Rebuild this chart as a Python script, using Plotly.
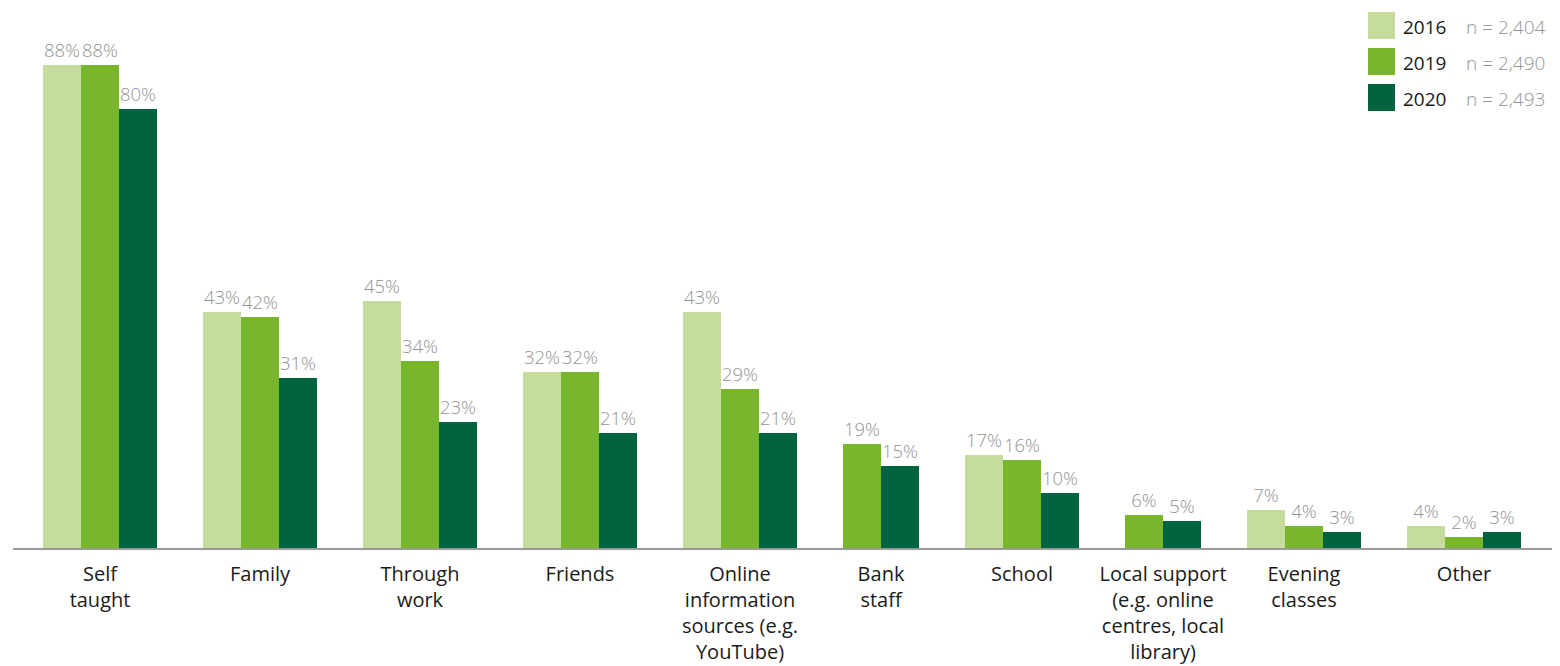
import plotly.graph_objects as go

# Survey responses: where people learned their digital skills (% of respondents)
categories = [
    "Self<br>taught", "Family", "Through<br>work", "Friends",
    "Online<br>information<br>sources (e.g.<br>YouTube)", "Bank<br>staff", "School",
    "Local support<br>(e.g. online<br>centres, local<br>library)", "Evening<br>classes", "Other",
]
years = ["2016", "2019", "2020"]
sample_sizes = ["n = 2,404", "n = 2,490", "n = 2,493"]
values_2016 = [88, 43, 45, 32, 43, None, 17, None, 7, 4]
values_2019 = [88, 42, 34, 32, 29, 19, 16, 6, 4, 2]
values_2020 = [80, 31, 23, 21, 21, 15, 10, 5, 3, 3]

series = [values_2016, values_2019, values_2020]
colors = ["#c6dc9d", "#78b72b", "#00643f"]

BAR = 38      # bar width in axis units
GAP = 46      # space between category groups
LABEL_GREY = "#949494"
FONT = "Open Sans"

# Pack bars side by side; categories without a value for a year take no slot
bar_x = [[None] * len(categories) for _ in series]
group_centres = []
cursor = 0
for ci in range(len(categories)):
    start = cursor
    for si, vals in enumerate(series):
        if vals[ci] is not None:
            bar_x[si][ci] = cursor + BAR / 2
            cursor += BAR
    group_centres.append((start + cursor) / 2)
    cursor += GAP
total_width = cursor - GAP

fig = go.Figure()
for si, vals in enumerate(series):
    xs = [x for x, v in zip(bar_x[si], vals) if v is not None]
    ys = [v for v in vals if v is not None]
    fig.add_trace(go.Bar(
        x=xs, y=ys, width=BAR, name=years[si],
        marker=dict(color=colors[si], line=dict(width=0)),
        text=[f"{v}%" for v in ys], textposition="outside",
        textfont=dict(family=FONT, size=18.5, color=LABEL_GREY, weight=300),
        constraintext="none", cliponaxis=False, showlegend=False,
    ))

# Legend: coloured squares, year and sample size
L, PW, PH = 13, 1539, 548
def px(x):
    return (x - L) / PW
def py(y):
    return (PH - y) / PH

shapes, annotations = [], []
for i, (yr, n) in enumerate(zip(years, sample_sizes)):
    top = 12 + 36 * i
    shapes.append(dict(type="rect", xref="paper", yref="paper",
                       x0=px(1368), x1=px(1395), y0=py(top + 27), y1=py(top),
                       fillcolor=colors[i], line=dict(width=0)))
    annotations.append(dict(xref="paper", yref="paper", x=px(1401), y=py(top + 15),
                            text=yr, showarrow=False, xanchor="left", yanchor="middle",
                            font=dict(family=FONT, size=19, color="#1a1a1a")))
    annotations.append(dict(xref="paper", yref="paper", x=px(1464), y=py(top + 15),
                            text=n, showarrow=False, xanchor="left", yanchor="middle",
                            font=dict(family=FONT, size=19, color=LABEL_GREY, weight=300)))

fig.update_layout(
    width=1560, height=666,
    margin=dict(l=13, r=8, t=0, b=118),
    paper_bgcolor="white", plot_bgcolor="white",
    barmode="overlay", bargap=0,
    shapes=shapes, annotations=annotations,
    xaxis=dict(
        range=[-30, total_width + 31], tickmode="array",
        tickvals=group_centres, ticktext=categories,
        showline=True, linecolor="#9a9a9a", linewidth=2,
        showgrid=False, zeroline=False, ticks="",
        automargin=False, ticklabelstandoff=7,
        tickfont=dict(family=FONT, size=20, color="#1a1a1a"),
    ),
    yaxis=dict(range=[0, 99.8], visible=False, showgrid=False, zeroline=False,
               automargin=False),
    font=dict(family=FONT),
)

fig.write_html("out.html")
